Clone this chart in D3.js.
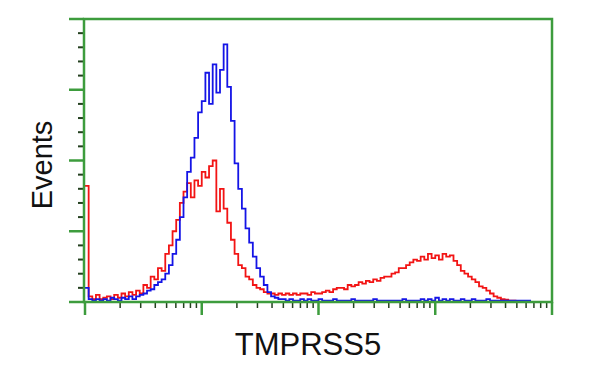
<!DOCTYPE html>
<html>
<head>
<meta charset="utf-8">
<script src="https://cdn.jsdelivr.net/npm/d3@7"></script>
<style>
  body { margin: 0; background: #fff; }
  svg { display: block; }
</style>
</head>
<body>
<svg id="chart" width="600" height="375"></svg>
<script>
// histogram channels: 32 bins per decade, 4 decades (1 .. 10^4)
const binsPerDecade = 32;
const decades = [1, 10, 100, 1000, 10000];

// isotype / control (blue)
const blueCounts = [
  5, 1, 0.5, 1, 0.5, 1, 0.5, 1.5, 1, 0.5,
  1.5, 1, 2, 1, 2, 2.5, 3, 4, 4.5, 6,
  7, 8, 10, 13, 17, 22, 30, 37, 46, 51,
  58, 67, 71, 81, 70, 84, 74, 82, 91, 76,
  64, 49, 40, 33, 26, 21, 16, 12, 9, 6,
  3.5, 2, 1.5, 1, 1, 0.5, 1, 0.5, 0.5, 1,
  0.5, 1, 0.5, 0.5, 1, 0.5, 0.5, 0.5, 1, 0.5,
  0.5, 0.5, 0.5, 1, 0.5, 0.5, 0.5, 0.5, 0.5, 1,
  0.5, 0.5, 0.5, 0.5, 0.5, 0.5, 0.5, 1, 0.5, 0.5,
  0.5, 0.5, 1, 0.5, 1, 0.5, 1.5, 0.5, 1, 0.5,
  1, 0.5, 0.5, 1, 0.5, 0.5, 1, 0.5, 0.5, 0.5,
  1, 0.5, 0.5, 0.5, 0.5, 0.5, 0.5, 0.5, 0.5, 0.5,
  0.5, 0.5, 0, 0, 0, 0, 0, 0
];

// TMPRSS5 transfected (red)
const redCounts = [
  41, 2, 1, 2.5, 1, 1.5, 2, 1, 2.5, 1.5,
  3, 2, 3.5, 2.5, 4, 3, 6, 5, 9, 8,
  12, 11, 17, 20, 25, 29, 35, 39, 42, 37,
  43, 41, 46, 44, 48, 50, 32, 40, 33, 28,
  22, 17, 13, 12, 9, 8, 6, 5, 4.5, 3.5,
  3, 3, 2.5, 3, 2.5, 3, 2.5, 3, 2.5, 3,
  3, 2.5, 3.5, 3, 3, 3.5, 4, 3.5, 4.5, 5,
  5, 4.5, 6, 5.5, 6, 7, 6.5, 7.5, 7, 8,
  7.5, 8.5, 9, 9, 10, 10.5, 12, 12, 13, 14,
  15, 14.5, 16, 15, 17, 15.5, 16.5, 15, 17, 16,
  16.5, 14.5, 13, 11, 10, 9, 8, 7, 5.5, 5,
  4, 3, 2, 1.5, 1, 0.8, 0.5, 0.5, 0.3, 0,
  0, 0, 0, 0, 0, 0, 0, 0
];

const yMajor = [0, 25, 50, 75, 100];
const yMinor = d3.range(0, 101, 5).filter(v => v % 25 !== 0);

const axisGreen = '#3d9c3d';
const tickDark = '#24401f';

const svg = d3.select('#chart');
const plotL = 84, plotR = 552, plotT = 19, plotB = 302;

const x = d3.scaleLog().domain([1, 10000]).range([plotL + 1, plotR]);
const y = d3.scaleLinear().domain([0, 100]).range([plotB, plotT]);

function binEdge(i) {
    return Math.pow(10, i / binsPerDecade);
}

function stepPath(counts) {
    let pts = counts.map((v, i) => [binEdge(i), v]);
    pts.push([binEdge(counts.length), counts[counts.length - 1]]);
    return d3.line()
        .x(d => x(d[0]))
        .y(d => y(d[1]))
        .curve(d3.curveStepAfter)(pts);
}

// data first, axes frame on top
svg.append('path')
    .attr('d', stepPath(redCounts))
    .attr('fill', 'none')
    .attr('stroke', '#f21414')
    .attr('stroke-width', 1.8);

svg.append('path')
    .attr('d', stepPath(blueCounts))
    .attr('fill', 'none')
    .attr('stroke', '#1414e6')
    .attr('stroke-width', 1.8);

// x minor ticks (log 2..9 in each decade)
let xMinor = [];
decades.slice(0, -1).forEach(d => {
    for (let k = 2; k <= 9; k++) xMinor.push(d * k);
});

svg.append('g').selectAll('line').data(xMinor).join('line')
    .attr('x1', d => x(d)).attr('x2', d => x(d))
    .attr('y1', plotB).attr('y2', plotB + 6)
    .attr('stroke', tickDark).attr('stroke-width', 1.5);

svg.append('g').selectAll('line').data(decades).join('line')
    .attr('x1', d => x(d)).attr('x2', d => x(d))
    .attr('y1', plotB).attr('y2', plotB + 13)
    .attr('stroke', axisGreen).attr('stroke-width', 2.5);

// y ticks
svg.append('g').selectAll('line').data(yMinor).join('line')
    .attr('x1', plotL - 6).attr('x2', plotL)
    .attr('y1', d => y(d)).attr('y2', d => y(d))
    .attr('stroke', tickDark).attr('stroke-width', 2);

svg.append('g').selectAll('line').data(yMajor).join('line')
    .attr('x1', plotL - 15).attr('x2', plotL)
    .attr('y1', d => y(d)).attr('y2', d => y(d))
    .attr('stroke', axisGreen).attr('stroke-width', 2.5);

// frame
svg.append('rect')
    .attr('x', plotL).attr('y', plotT)
    .attr('width', plotR - plotL).attr('height', plotB - plotT)
    .attr('fill', 'none')
    .attr('stroke', axisGreen).attr('stroke-width', 2.5);

// labels
svg.append('text')
    .attr('transform', 'translate(52,165) rotate(-90)')
    .attr('text-anchor', 'middle')
    .style('font-family', '"Liberation Sans", Arial, sans-serif')
    .style('font-size', '29px')
    .attr('fill', '#111')
    .text('Events');

svg.append('text')
    .attr('x', 308).attr('y', 355)
    .attr('text-anchor', 'middle')
    .style('font-family', '"Liberation Sans", Arial, sans-serif')
    .style('font-size', '31px')
    .attr('fill', '#111')
    .text('TMPRSS5');
</script>
</body>
</html>
